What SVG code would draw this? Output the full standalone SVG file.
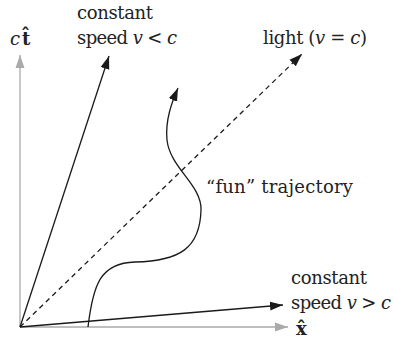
<svg xmlns="http://www.w3.org/2000/svg" width="394" height="340" viewBox="0 0 394 340">
<style>
text{font-family:'DejaVu Serif','Liberation Serif',serif;font-size:18px;fill:#222}
.m{font-style:italic}
.b{font-weight:bold}
.ax{stroke:#aaa;stroke-width:1.3;fill:none}
.ln{stroke:#1a1a1a;stroke-width:1.3;fill:none}
</style>
<defs>
<marker id="ab" markerUnits="userSpaceOnUse" markerWidth="14" markerHeight="10" viewBox="0 0 14 10" refX="13" refY="5" orient="auto">
<path d="M0,0.5 L13,5 L0,9.5 z" fill="#1a1a1a"/>
</marker>
<marker id="ag" markerUnits="userSpaceOnUse" markerWidth="14" markerHeight="10" viewBox="0 0 14 10" refX="13" refY="5" orient="auto">
<path d="M0,0.5 L13,5 L0,9.5 z" fill="#aaa"/>
</marker>
</defs>
<g id="connectors">
<line id="y-axis" class="ax" x1="20" y1="327" x2="20" y2="55" marker-end="url(#ag)"/>
<line id="x-axis" class="ax" x1="20" y1="327" x2="288" y2="327" marker-end="url(#ag)"/>
<line id="slow" class="ln" x1="20" y1="327" x2="109" y2="56" marker-end="url(#ab)"/>
<line id="light" class="ln" x1="20" y1="327" x2="302" y2="54" stroke-dasharray="5 4" marker-end="url(#ab)"/>
<line id="fast" class="ln" x1="20" y1="327" x2="283" y2="305" marker-end="url(#ab)"/>
<path id="fun" class="ln" d="M88,327 C93,285 100,263 135,262 C180,261 200,248 201,210 C202,185 170,168 167,140 C165,120 172,102 178,88" marker-end="url(#ab)"/>
</g>
<g id="label-ct"><text x="10" y="45"><tspan class="m">c</tspan><tspan class="b" dx="2">t̂</tspan></text></g>
<g id="label-slow">
<text x="77" y="19" textLength="76">constant</text>
<text x="77" y="44" textLength="100">speed <tspan class="m">v</tspan> &lt; <tspan class="m">c</tspan></text>
</g>
<g id="label-light"><text x="263" y="44" textLength="104">light (<tspan class="m">v</tspan> = <tspan class="m">c</tspan>)</text></g>
<g id="label-fun"><text x="206" y="193" textLength="147">“fun” trajectory</text></g>
<g id="label-fast">
<text x="291" y="284" textLength="76">constant</text>
<text x="291" y="309" textLength="100">speed <tspan class="m">v</tspan> &gt; <tspan class="m">c</tspan></text>
</g>
<g id="label-x"><text class="b" x="296" y="335">x̂</text></g>
</svg>
